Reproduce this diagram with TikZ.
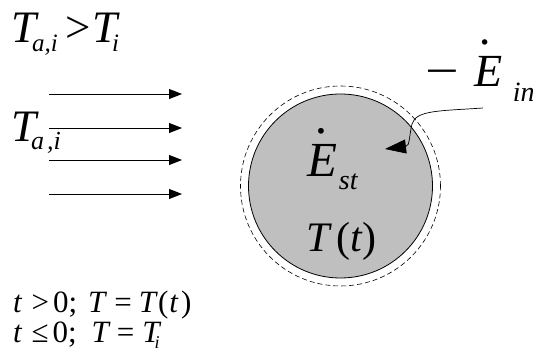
\documentclass[tikz,border=0pt]{standalone}
\usepackage{graphicx}
\usepackage{fontspec}
\setmainfont{Liberation Serif}
\usetikzlibrary{arrows.meta}
\newcommand\fsz[1]{\fontsize{#1}{#1}\selectfont}
% dotted E: #1 horizontal shift of the dot, #2 raise of the dot
\newcommand\dotE[2]{\makebox[0pt][l]{\hspace{#1}\raisebox{#2}{.}}E}
\definecolor{bodygray}{HTML}{BFBFBF}
\tikzset{
  lbl/.style={inner sep=0pt, outer sep=0pt, anchor=base west},
  flow/.style={line width=0.9pt, -{Triangle[length=13pt,width=10pt]}},
  heatarrow/.style={line width=0.7pt, -{Triangle[length=21pt,width=14pt]}},
  bodyline/.style={line width=0.8pt, fill=bodygray},
  surface/.style={line width=0.6pt, dash pattern=on 5pt off 3pt}
}
\begin{document}
\begin{tikzpicture}[x=1pt,y=1pt]
\useasboundingbox (0,0) rectangle (533,358);
% body and control surface
\node[circle, draw, surface, minimum size=200pt, inner sep=0pt] (cs) at (340.5,172) {};
\node[circle, draw, bodyline, minimum size=184pt, inner sep=0pt] (body) at (340.5,172) {};
% top-left condition
\node[lbl] (cond) at (12,315) {\fsz{45}\itshape T\hspace{-5pt}\raisebox{-9pt}{\fsz{25}a,i}\hspace{8pt}{\upshape >}\hspace{1pt}T\hspace{-5pt}\raisebox{-9pt}{\fsz{25}i}};
% incoming flow
\node[lbl] (tai) at (12,216) {\fsz{45}\itshape T\hspace{-6pt}\raisebox{-8pt}{\fsz{26}a\hspace{3pt},i}};
\coordinate (s1) at (49,264); \coordinate (e1) at (182,264);
\coordinate (s2) at (49,230); \coordinate (e2) at (182,230);
\coordinate (s3) at (49,198); \coordinate (e3) at (182,198);
\coordinate (s4) at (49,164); \coordinate (e4) at (182,164);
\draw[flow] (s1) -- (e1);
\draw[flow] (s2) -- (e2);
\draw[flow] (s3) -- (e3);
\draw[flow] (s4) -- (e4);
% energy labels
\node[lbl] (est) at (307,181) {\fsz{49}\itshape\dotE{9pt}{43pt}\hspace{2pt}\raisebox{-13pt}{\fsz{28}st}};
\node[lbl] (tt) at (306,106) {\fsz{42}\itshape T\hspace{7pt}{\upshape(}t{\upshape)}};
\node[lbl] (ein) at (425,271) {\fsz{46}\scalebox{1.3}[1]{\upshape −}\hspace{16pt}\itshape\dotE{6pt}{42pt}\hspace{10pt}\raisebox{-15pt}{\fsz{28}in}};
\coordinate (ein0) at (483,250);
\coordinate (eintip) at (385,209);
\draw[heatarrow] (ein0) .. controls (440,247) and (416,248) .. (412,234) .. controls (409,222) and (410,212) .. (eintip);
% time conditions
\node[lbl] (c1) at (13,45) {\fsz{31}\itshape t\hspace{10pt}{\upshape >}\hspace{4pt}{\upshape 0;}\hspace{11pt}T\hspace{9pt}{\upshape =}\hspace{7pt}T\hspace{2pt}{\upshape(}\hspace{1pt}t\hspace{3pt}{\upshape)}};
\node[lbl] (c2) at (13,15) {\fsz{31}\itshape t\hspace{10pt}{\upshape ≤}\hspace{4pt}{\upshape 0;}\hspace{15pt}T\hspace{8pt}{\upshape =}\hspace{8pt}T\hspace{-5pt}\raisebox{-6pt}{\fsz{18}i}};
\end{tikzpicture}
\end{document}
